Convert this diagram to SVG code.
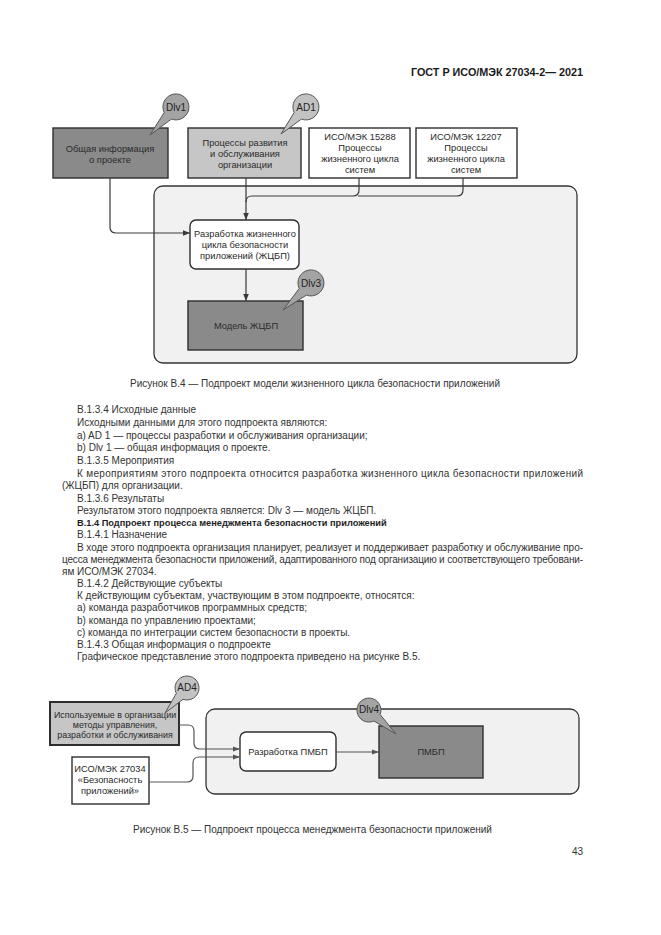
<svg xmlns="http://www.w3.org/2000/svg" width="661" height="935" viewBox="0 0 661 935">
<style>
text{font-family:"Liberation Sans",Arial,sans-serif;fill:#2a2a2a}
.b{font-size:10px;fill:#333}
.bb{font-size:9.25px;font-weight:bold;fill:#1e1e1e}
.n{font-size:9.3px;text-anchor:middle}
.h{font-size:10.8px;font-weight:bold;fill:#1a1a1a}
.box{stroke:#2e2e2e;stroke-width:1.4}
.dark{fill:#8a8a8a}
.light{fill:#c6c6c6}
.white{fill:#ffffff}
.cont{fill:#f1f1f1;stroke:#333;stroke-width:1.3}
.bub{fill:#a4a4a4;stroke:#555;stroke-width:1}
.bubl{fill:#c2c2c2;stroke:#555;stroke-width:1}
.c{fill:none;stroke:#3a3a3a;stroke-width:1.2}
.c2{fill:none;stroke:#555;stroke-width:1.2}
.bt{font-size:10px;text-anchor:middle;fill:#222}
</style>
<defs>
<marker id="ar" viewBox="0 0 10 10" refX="10" refY="5" markerWidth="7" markerHeight="7" orient="auto" markerUnits="userSpaceOnUse">
<path d="M0,1 L10,5 L0,9 Z" fill="#3a3a3a"/>
</marker>
<marker id="ar2" viewBox="0 0 10 10" refX="10" refY="5" markerWidth="8" markerHeight="7" orient="auto" markerUnits="userSpaceOnUse">
<path d="M0,1.5 L10,5 L0,8.5 Z" fill="#555"/>
</marker>
</defs>
<rect width="661" height="935" fill="#ffffff"/>

<text class="h" x="583" y="76" text-anchor="end">ГОСТ Р ИСО/МЭК 27034-2— 2021</text>

<!-- Figure B.4 -->
<rect id="container-b4" class="cont" x="154" y="186" width="423" height="177" rx="9"/>

<g id="dlv1-box">
<rect class="box dark" x="53" y="128" width="115" height="50"/>
<text class="n" x="110" y="152">Общая информация</text>
<text class="n" x="110" y="163">о проекте</text>
</g>
<g id="dlv1-callout">
<path class="bub" d="M150,135 L171.4,119.1 A13,13 0 1 0 164.2,112.5 Z"/>
<text class="bt" x="176" y="111">Dlv1</text>
</g>

<g id="ad1-box">
<rect class="box light" x="188" y="128" width="113" height="50"/>
<text class="n" x="245" y="146">Процессы развития</text>
<text class="n" x="245" y="157">и обслуживания</text>
<text class="n" x="245" y="168">организации</text>
</g>
<g id="ad1-callout">
<path class="bubl" d="M281,134 L301.4,119.1 A13,13 0 1 0 294.2,112.5 Z"/>
<text class="bt" x="306" y="111">AD1</text>
</g>

<g id="iso15288-box">
<rect class="box white" x="309" y="128" width="101" height="50"/>
<text class="n" x="360" y="140">ИСО/МЭК 15288</text>
<text class="n" x="360" y="151">Процессы</text>
<text class="n" x="360" y="162">жизненного цикла</text>
<text class="n" x="360" y="173">систем</text>
</g>

<g id="iso12207-box">
<rect class="box white" x="416" y="128" width="101" height="50"/>
<text class="n" x="466" y="140">ИСО/МЭК 12207</text>
<text class="n" x="466" y="151">Процессы</text>
<text class="n" x="466" y="162">жизненного цикла</text>
<text class="n" x="466" y="173">систем</text>
</g>

<g id="dev-lifecycle-box">
<rect class="box white" x="190" y="220" width="109" height="49" rx="6"/>
<text class="n" x="245" y="237">Разработка жизненного</text>
<text class="n" x="245" y="248">цикла безопасности</text>
<text class="n" x="245" y="259">приложений (ЖЦБП)</text>
</g>

<g id="model-box">
<rect class="box dark" x="188" y="301" width="115" height="49"/>
<text class="n" x="246" y="329">Модель ЖЦБП</text>
</g>
<g id="dlv3-callout">
<path class="bub" d="M283,310 L306.4,295.1 A13,13 0 1 0 299.2,288.5 Z"/>
<text class="bt" x="311" y="287">Dlv3</text>
</g>

<g id="connectors-b4">
<path class="c" d="M110,178 V227 Q110,233 116,233 H190" marker-end="url(#ar)"/>
<path class="c" d="M246,178 V220" marker-end="url(#ar)"/>
<path class="c" d="M359,178 V190 Q359,196 353,196 H252 Q246,196 246,202"/>
<path class="c" d="M463,178 V190 Q463,196 457,196 H358"/>
<path class="c" d="M246,269 V301" marker-end="url(#ar)"/>
</g>

<text class="b" x="130" y="387">Рисунок В.4 — Подпроект модели жизненного цикла безопасности приложений</text>

<!-- Body text -->
<text class="b" x="77" y="413">В.1.3.4 Исходные данные</text>
<text class="b" x="77" y="426">Исходными данными для этого подпроекта являются:</text>
<text class="b" x="77" y="439">a) AD 1 — процессы разработки и обслуживания организации;</text>
<text class="b" x="77" y="451">b) Dlv 1 — общая информация о проекте.</text>
<text class="b" x="77" y="464">В.1.3.5 Мероприятия</text>
<text class="b" x="77" y="477" textLength="506" lengthAdjust="spacing">К мероприятиям этого подпроекта относится разработка жизненного цикла безопасности приложений</text>
<text class="b" x="62" y="489">(ЖЦБП) для организации.</text>
<text class="b" x="77" y="502">В.1.3.6 Результаты</text>
<text class="b" x="77" y="514">Результатом этого подпроекта является: Dlv 3 — модель ЖЦБП.</text>
<text class="bb" x="77" y="526">В.1.4 Подпроект процесса менеджмента безопасности приложений</text>
<text class="b" x="77" y="538">В.1.4.1 Назначение</text>
<text class="b" x="77" y="551" textLength="506" lengthAdjust="spacing">В ходе этого подпроекта организация планирует, реализует и поддерживает разработку и обслуживание про-</text>
<text class="b" x="62" y="563" textLength="521" lengthAdjust="spacing">цесса менеджмента безопасности приложений, адаптированного под организацию и соответствующего требовани-</text>
<text class="b" x="62" y="575">ям ИСО/МЭК 27034.</text>
<text class="b" x="77" y="587">В.1.4.2 Действующие субъекты</text>
<text class="b" x="77" y="599">К действующим субъектам, участвующим в этом подпроекте, относятся:</text>
<text class="b" x="77" y="611">a) команда разработчиков программных средств;</text>
<text class="b" x="77" y="624">b) команда по управлению проектами;</text>
<text class="b" x="77" y="636">c) команда по интеграции систем безопасности в проекты.</text>
<text class="b" x="77" y="648">В.1.4.3 Общая информация о подпроекте</text>
<text class="b" x="77" y="660">Графическое представление этого подпроекта приведено на рисунке В.5.</text>

<!-- Figure B.5 -->
<rect id="container-b5" class="cont" x="206" y="709" width="373" height="85" rx="9"/>

<g id="ad4-box">
<rect class="box light" x="50" y="702" width="129" height="43" style="stroke-width:2"/>
<text class="n" x="115" y="718" style="font-size:8.9px">Используемые в организации</text>
<text class="n" x="115" y="728" style="font-size:8.9px">методы управления,</text>
<text class="n" x="115" y="738" style="font-size:8.9px">разработки и обслуживания</text>
</g>
<g id="ad4-callout">
<path class="bubl" d="M165,713 L183,699.3 A12,12 0 1 0 176.3,693.4 Z"/>
<text class="bt" x="187" y="691">AD4</text>
</g>

<g id="iso27034-box">
<rect class="box white" x="72" y="757" width="77" height="47"/>
<text class="n" x="110" y="772">ИСО/МЭК 27034</text>
<text class="n" x="110" y="783">«Безопасность</text>
<text class="n" x="110" y="794">приложений»</text>
</g>

<g id="dev-pmbp-box">
<rect class="box white" x="240" y="732" width="96" height="39" rx="6"/>
<text class="n" x="288" y="755">Разработка ПМБП</text>
</g>

<g id="pmbp-box">
<rect class="box dark" x="379" y="726" width="104" height="52"/>
<text class="n" x="431" y="755">ПМБП</text>
</g>
<g id="dlv4-callout">
<path class="bub" d="M396,734 L373.9,721 A12,12 0 1 1 380.1,714.5 Z"/>
<text class="bt" x="369" y="713">Dlv4</text>
</g>

<g id="connectors-b5">
<path class="c2" d="M179,725 H188 Q194,725 194,731 V743 Q194,749 200,749 H240" marker-end="url(#ar2)"/>
<path class="c2" d="M149,782 H187 Q193,782 193,776 V763 Q193,757 199,757 H240" marker-end="url(#ar2)"/>
<path class="c2" d="M336,752 H379" marker-end="url(#ar2)"/>
</g>

<text class="b" x="133" y="833">Рисунок В.5 — Подпроект процесса менеджмента безопасности приложений</text>
<text class="b" x="583" y="855" text-anchor="end">43</text>
</svg>
